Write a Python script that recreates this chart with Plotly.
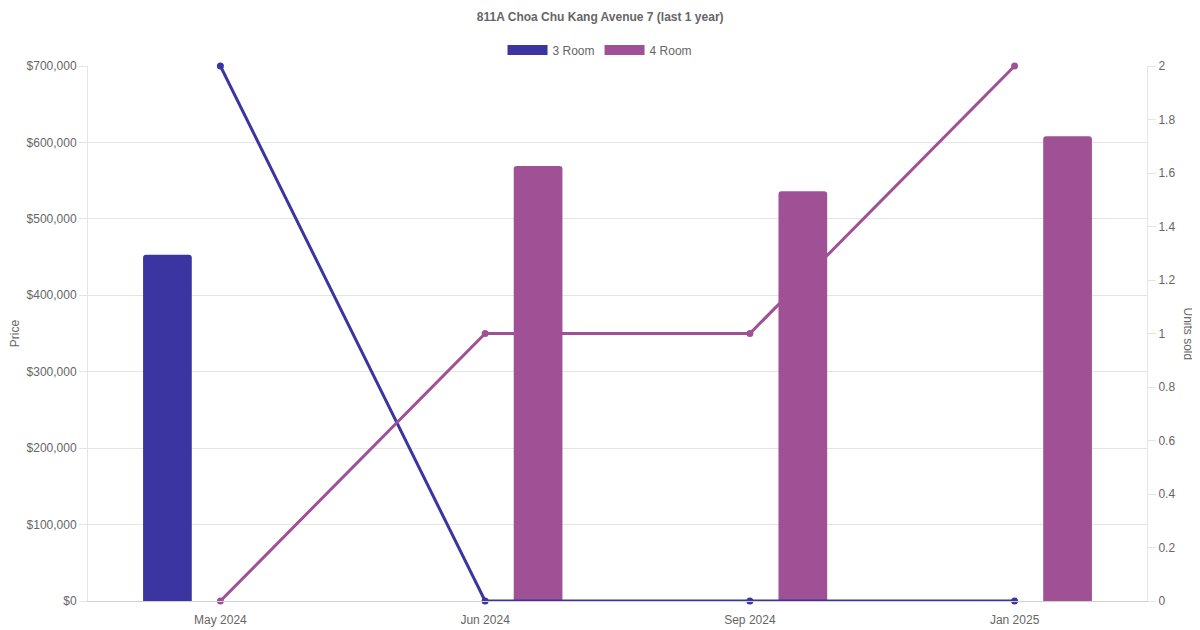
import plotly.graph_objects as go

months = ["May 2024", "Jun 2024", "Sep 2024", "Jan 2025"]

# median price per month (None = no transactions)
price_3room = [453000, None, None, None]
price_4room = [None, 569000, 536000, 608000]

# units sold per month
units_3room = [2, 0, 0, 0]
units_4room = [0, 1, 1, 2]

color_3room = "#3a35a0"
color_4room = "#a05195"
grid = "#e5e5e5"
text = "#666666"
tickfont = {"size": 12, "color": text}

fig = go.Figure()

fig.add_trace(go.Bar(
    name="3 Room", x=months, y=price_3room,
    marker={"color": color_3room, "cornerradius": 3, "line": {"width": 0}},
    legendgroup="3", showlegend=False,
))
fig.add_trace(go.Bar(
    name="4 Room", x=months, y=price_4room,
    marker={"color": color_4room, "cornerradius": 3, "line": {"width": 0}},
    legendgroup="4", showlegend=False,
))
fig.add_trace(go.Scatter(
    name="3 Room", x=months, y=units_3room, yaxis="y2",
    mode="lines+markers", line={"color": color_3room, "width": 3},
    marker={"size": 7, "color": color_3room}, cliponaxis=False,
    legendgroup="3", showlegend=False,
))
fig.add_trace(go.Scatter(
    name="4 Room", x=months, y=units_4room, yaxis="y2",
    mode="lines+markers", line={"color": color_4room, "width": 3},
    marker={"size": 7, "color": color_4room}, cliponaxis=False,
    legendgroup="4", showlegend=False,
))

# legend entries drawn as wide colour boxes
for name, col, grp in [("3 Room", color_3room, "3"), ("4 Room", color_4room, "4")]:
    fig.add_trace(go.Scatter(
        name=name, x=[None], y=[None], mode="lines",
        line={"color": col, "width": 13}, legendgroup=grp,
    ))

fig.update_layout(
    width=1200, height=630,
    paper_bgcolor="white", plot_bgcolor="white",
    font={"family": "Liberation Sans, Arial, sans-serif", "size": 12, "color": text},
    title={"text": "<b>811A Choa Chu Kang Avenue 7 (last 1 year)</b>",
           "x": 0.4935, "xanchor": "center", "y": 0.986, "yanchor": "middle",
           "font": {"size": 12, "color": text}},
    margin={"l": 80, "r": 61, "t": 58, "b": 37, "autoexpand": False},
    barmode="group", bargap=0.2, bargroupgap=0.54,
    legend={"orientation": "h", "x": 0.4835, "xanchor": "center", "y": 1.03,
            "yanchor": "middle", "font": {"size": 12, "color": text},
            "itemwidth": 40, "traceorder": "normal"},
    xaxis={"type": "category", "showgrid": False, "showline": True,
           "linecolor": "#d0d0d0", "ticks": "", "tickfont": tickfont,
           "ticklabelstandoff": 8, "automargin": False},
    yaxis={"range": [0, 700000], "dtick": 100000, "tickprefix": "$",
           "tickformat": ",", "gridcolor": grid, "showline": True, "linecolor": grid,
           "ticks": "outside", "ticklen": 8, "tickcolor": grid, "tickfont": tickfont,
           "zeroline": False, "automargin": False,
           "title": {"text": "Price", "standoff": 6, "font": tickfont}},
    yaxis2={"range": [0, 2], "dtick": 0.2, "overlaying": "y", "side": "right",
            "showgrid": False, "showline": True, "linecolor": grid,
            "ticks": "outside", "ticklen": 8, "tickcolor": grid, "tickfont": tickfont,
            "zeroline": False, "automargin": False},
    annotations=[{"text": "Units sold", "textangle": 90, "showarrow": False,
                  "xref": "paper", "yref": "paper", "x": 1.0, "xshift": 50,
                  "y": 0.5, "font": tickfont}],
)

fig.write_html("out.html")
